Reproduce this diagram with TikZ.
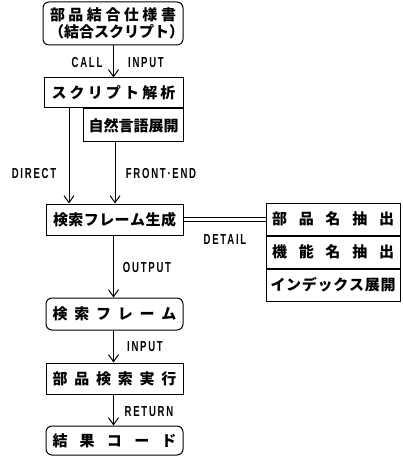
\documentclass[tikz,border=0pt]{standalone}
\usepackage{fontspec}
\setmainfont{Liberation Sans}
\newfontfamily\jp{Noto Sans CJK JP}
\newfontfamily\lab[FakeStretch=0.66,LetterSpace=12]{Liberation Sans}
\usetikzlibrary{arrows.meta}
\newcommand{\spr}[2]{\makebox[#1][s]{#2}}
\tikzset{
  box/.style={draw, line width=1pt, inner sep=0pt, minimum width=138pt, minimum height=29pt,
    font=\jp\bfseries\fontsize{15}{15}\selectfont},
  rbox/.style={box, rounded corners=6pt},
  sidebox/.style={box, minimum width=134pt, minimum height=32pt},
  arr/.style={line width=1pt, -{Straight Barb[length=7pt,width=10pt,line width=1pt]}},
  lbl/.style={font=\lab\bfseries\fontsize{14.5}{14.5}\selectfont, inner sep=0pt}
}
\begin{document}
\begin{tikzpicture}[x=1pt,y=-1pt]
\useasboundingbox (0,0) rectangle (403,457);
% main column
\node[rbox, minimum width=140pt, minimum height=43pt, align=center] (b1) at (113,23.5)
  {\spr{126pt}{部\hfill 品\hfill 結\hfill 合\hfill 仕\hfill 様\hfill 書}\\[1.5pt]
   \spr{128pt}{（\hfill 結\hfill 合\hfill ス\hfill ク\hfill リ\hfill プ\hfill ト\hfill ）}};
\node[box, minimum width=139pt, minimum height=30pt] (b2) at (113.5,93)
  {\spr{124pt}{ス\hfill ク\hfill リ\hfill プ\hfill ト\hfill 解\hfill 析}};
\node[box, minimum width=100pt, minimum height=33pt, anchor=north east] (b2s) at (b2.south east)
  {\spr{89pt}{自\hfill 然\hfill 言\hfill 語\hfill 展\hfill 開}};
\node[box, minimum width=137pt, minimum height=31pt] (b3) at (114.5,219.5)
  {\spr{123pt}{検\hfill 索\hfill フ\hfill レ\hfill ー\hfill ム\hfill 生\hfill 成}};
\node[rbox, minimum width=137pt, minimum height=32pt] (b4) at (114.5,314)
  {\spr{124pt}{検\hfill 索\hfill フ\hfill レ\hfill ー\hfill ム}};
\node[box, minimum width=137pt, minimum height=31pt] (b5) at (114.5,378.5)
  {\spr{124pt}{部\hfill 品\hfill 検\hfill 索\hfill 実\hfill 行}};
\node[rbox, minimum width=137pt, minimum height=29pt] (b6) at (114.5,440.5)
  {\spr{124pt}{結\hfill 果\hfill コ\hfill ー\hfill ド}};
% side box
\node[sidebox] (r1) at (333,219)
  {\spr{122pt}{部\hfill 品\hfill 名\hfill 抽\hfill 出}};
\node[sidebox, anchor=north] (r2) at (r1.south)
  {\spr{122pt}{機\hfill 能\hfill 名\hfill 抽\hfill 出}};
\node[sidebox, anchor=north] (r3) at (r2.south)
  {\spr{125pt}{イ\hfill ン\hfill デ\hfill ッ\hfill ク\hfill ス\hfill 展\hfill 開}};
% helper x positions
\coordinate (mx) at (113.5,0);
\coordinate (dx) at (69,0);
\coordinate (fx) at (115,0);
% connectors
\draw[arr] (b1.south -| mx) -- (b2.north -| mx);
\draw[arr] (b2.south -| dx) -- (b3.north -| dx);
\draw[arr] (b2s.south -| fx) -- (b3.north -| fx);
\draw[line width=0.9pt, double=white, double distance=2.6pt] (b3.east) -- (b3.east -| r1.west);
\draw[arr] (b3.south -| mx) -- (b4.north -| mx);
\draw[arr] (b4.south -| mx) -- (b5.north -| mx);
\draw[arr] (b5.south -| mx) -- (b6.north -| mx);
% labels
\node[lbl] (lcall) at (87,63) {CALL};
\node[lbl] (lin1) at (146,63) {INPUT};
\node[lbl] (ldir) at (34,174) {DIRECT};
\node[lbl] (lfe) at (161,174) {FRONT·END};
\node[lbl] (ldet) at (225,240) {DETAIL};
\node[lbl] (lout) at (147,268) {OUTPUT};
\node[lbl] (lin2) at (145,347) {INPUT};
\node[lbl] (lret) at (149,412) {RETURN};
\end{tikzpicture}
\end{document}
